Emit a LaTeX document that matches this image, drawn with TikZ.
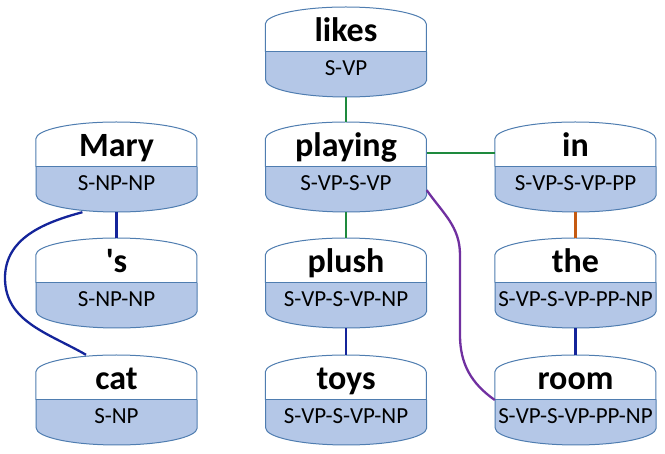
\documentclass[tikz,border=0pt]{standalone}
\usepackage{fontspec}
\setmainfont{Carlito}
\usetikzlibrary{calc}

\definecolor{tagblue}{HTML}{B4C7E7}
\definecolor{rimblue}{HTML}{4F7DB0}
\definecolor{linkgreen}{HTML}{1E8A3E}
\definecolor{linknavy}{HTML}{14249A}
\definecolor{linkorange}{HTML}{C55A11}
\definecolor{linkpurple}{HTML}{7030A0}

% one word box: name, position, word, tag
\newcommand\tagbox[4]{%
  \node[unit] (#1) at (#2) {};
  \fill[white] ([yshift=28pt]#1.west) arc[start angle=180,end angle=0,x radius=80.5pt,y radius=17pt]
    -- (#1.east) -- (#1.west) -- cycle;
  \fill[tagblue] (#1.west) -- ([yshift=-28pt]#1.west) arc[start angle=180,end angle=360,x radius=80.5pt,y radius=17pt]
    -- (#1.east) -- cycle;
  \draw[rim] ([yshift=28pt]#1.west) arc[start angle=180,end angle=0,x radius=80.5pt,y radius=17pt]
    -- ([yshift=-28pt]#1.east) arc[start angle=0,end angle=-180,x radius=80.5pt,y radius=17pt] -- cycle;
  \draw[rim] (#1.west) -- (#1.east);
  \node[wordtext] (#1-word) at ([yshift=10pt]#1.center) {#3};
  \node[tagtext] (#1-tag) at ([yshift=-24pt]#1.center) {#4};
}

\begin{document}
\begin{tikzpicture}[x=1pt,y=1pt,
  unit/.style={rectangle,minimum width=161pt,minimum height=90pt,inner sep=0pt},
  rim/.style={draw=rimblue,line width=1pt},
  wordtext/.style={anchor=base,inner sep=0pt,font=\bfseries\fontsize{34pt}{36pt}\selectfont},
  tagtext/.style={anchor=base,inner sep=0pt,font=\fontsize{23pt}{25pt}\selectfont},
  link/.style={line width=2.3pt}]
  \useasboundingbox (0,0) rectangle (665,-454);

  \tagbox{likes}{346,-52}{likes}{S-VP}
  \tagbox{Mary}{116.5,-167}{Mary}{S-NP-NP}
  \tagbox{playing}{346,-167}{playing}{S-VP-S-VP}
  \tagbox{in}{575.5,-167}{in}{S-VP-S-VP-PP}
  \tagbox{poss}{116.5,-283}{\textquotesingle s}{S-NP-NP}
  \tagbox{plush}{346,-283}{plush}{S-VP-S-VP-NP}
  \tagbox{the}{575.5,-283}{the}{S-VP-S-VP-PP-NP}
  \tagbox{cat}{116.5,-400}{cat}{S-NP}
  \tagbox{toys}{346,-400}{toys}{S-VP-S-VP-NP}
  \tagbox{room}{575.5,-400}{room}{S-VP-S-VP-PP-NP}

  \draw[link,linkgreen] (likes) -- (playing);
  \draw[link,linkgreen] (playing.10) -- (in.170);
  \draw[link,linkgreen] (playing) -- (plush);
  \draw[link,linknavy] (Mary) -- (poss);
  \draw[link,linknavy] (Mary.233) to[out=195,in=90] (5,-278) to[out=-90,in=150] (cat.124);
  \draw[link,linknavy] (plush) -- (toys);
  \draw[link,linkorange] (in) -- (the);
  \draw[link,linknavy] (the) -- (room);
  \draw[link,linkpurple] (playing.-16) to[out=-55,in=90] (460,-255) -- (460,-335) to[out=-90,in=145] (room.west);
\end{tikzpicture}
\end{document}
